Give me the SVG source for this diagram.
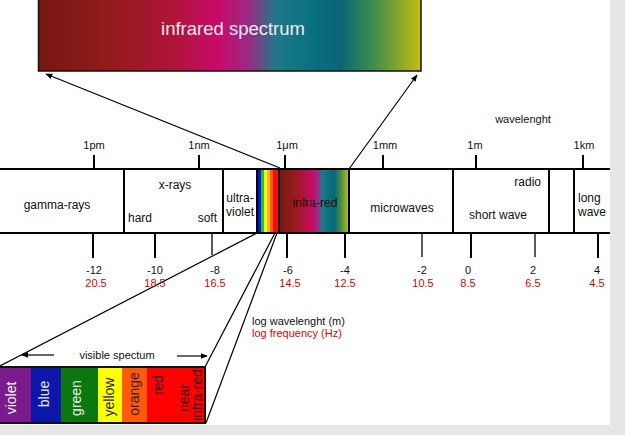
<svg xmlns="http://www.w3.org/2000/svg" width="625" height="435" viewBox="0 0 625 435">
<style>
.t{font-family:"Liberation Sans",Arial,sans-serif;font-size:11px;fill:#111}
.m{text-anchor:middle}
.e{text-anchor:end}
.r{fill:#e00000}
.b{font-size:12px}
.s{font-family:"Liberation Sans",Arial,sans-serif;font-size:14px;text-anchor:middle}
.ln{stroke:#000;stroke-width:2;fill:none}
.th{stroke:#000;stroke-width:1.3;fill:none}
.c{stroke:#000;stroke-width:1.2;fill:none}
</style>
<defs>
<linearGradient id="ir" x1="0" y1="0" x2="1" y2="0">
<stop offset="0" stop-color="#761812"/>
<stop offset="0.2" stop-color="#941b1c"/>
<stop offset="0.36" stop-color="#b0143a"/>
<stop offset="0.47" stop-color="#c80a6a"/>
<stop offset="0.55" stop-color="#9a2a82"/>
<stop offset="0.62" stop-color="#1f7888"/>
<stop offset="0.72" stop-color="#08707e"/>
<stop offset="0.79" stop-color="#0a6676"/>
<stop offset="0.87" stop-color="#3a8a50"/>
<stop offset="1" stop-color="#c2bf0e"/>
</linearGradient>
<marker id="ah" viewBox="0 0 10 10" refX="9" refY="5" markerWidth="7" markerHeight="7" markerUnits="userSpaceOnUse" orient="auto">
<path d="M0,1 L10,5 L0,9 Z" fill="#000"/>
</marker>
</defs>
<rect width="625" height="435" fill="#fff"/>
<rect x="610" y="0" width="15" height="435" fill="#e6e6e6"/>
<rect x="0" y="425" width="625" height="10" fill="#e6e6e6"/>

<g id="infrared-box">
<rect x="38.5" y="-2" width="382.5" height="73" fill="url(#ir)" stroke="#111" stroke-width="1.5"/>
<text x="233" y="35" style="font-family:'Liberation Sans',Arial,sans-serif;font-size:18.5px;fill:#f2eaf2" text-anchor="middle">infrared spectrum</text>
</g>

<g id="connectors">
<line class="c" x1="280" y1="168" x2="46" y2="74" marker-end="url(#ah)"/>
<line class="c" x1="349" y1="169" x2="417" y2="75" marker-end="url(#ah)"/>
<line class="c" x1="257" y1="233" x2="0" y2="366"/>
<line class="c" x1="275" y1="233" x2="205" y2="367"/>
<line class="c" x1="277" y1="233" x2="206" y2="423"/>
</g>

<g id="band">
<rect x="258" y="170" width="3" height="62" fill="#0010ff"/>
<rect x="261" y="170" width="3" height="62" fill="#10d010"/>
<rect x="264" y="170" width="3" height="62" fill="#ffff00"/>
<rect x="267" y="170" width="3" height="62" fill="#ffb040"/>
<rect x="270" y="170" width="3" height="62" fill="#ff6010"/>
<rect x="273" y="170" width="6" height="62" fill="#ff0a0a"/>
<rect x="279" y="170" width="70" height="62" fill="url(#ir)"/>
<line class="ln" x1="0" y1="169" x2="610" y2="169"/>
<line class="ln" x1="0" y1="233" x2="610" y2="233"/>
<line class="ln" x1="124" y1="169" x2="124" y2="233"/>
<line class="ln" x1="223" y1="169" x2="223" y2="233"/>
<line class="ln" x1="257" y1="169" x2="257" y2="233"/>
<line class="ln" x1="279" y1="169" x2="279" y2="233"/>
<line class="ln" x1="349" y1="169" x2="349" y2="233"/>
<line class="ln" x1="453" y1="169" x2="453" y2="233"/>
<line class="ln" x1="549" y1="169" x2="549" y2="233"/>
<line class="ln" x1="574" y1="169" x2="574" y2="233"/>
</g>

<g id="gamma-rays"><text class="t b m" x="57" y="209">gamma-rays</text></g>
<g id="x-rays">
<text class="t b m" x="175" y="189">x-rays</text>
<text class="t b" x="128" y="222">hard</text>
<text class="t b e" x="217" y="222">soft</text>
</g>
<g id="ultra-violet">
<text class="t b m" x="240" y="202">ultra-</text>
<text class="t b m" x="240" y="216">violet</text>
</g>
<g id="infra-red"><text class="t b m" x="315" y="207" style="fill:#1a0a0a">infra-red</text></g>
<g id="microwaves"><text class="t b m" x="402" y="212">microwaves</text></g>
<g id="radio">
<text class="t b e" x="541" y="186">radio</text>
<text class="t b m" x="498" y="219">short wave</text>
</g>
<g id="long-wave">
<text class="t b" x="578" y="202">long</text>
<text class="t b" x="578" y="216">wave</text>
</g>

<g id="top-scale">
<text class="t m" x="523" y="123">wavelenght</text>
<line class="ln" x1="94" y1="155" x2="94" y2="169"/>
<line class="ln" x1="199" y1="155" x2="199" y2="169"/>
<line class="ln" x1="285" y1="155" x2="285" y2="169"/>
<line class="ln" x1="383" y1="155" x2="383" y2="169"/>
<line class="ln" x1="476" y1="155" x2="476" y2="169"/>
<line class="ln" x1="583" y1="155" x2="583" y2="169"/>
<text class="t m" x="94" y="149">1pm</text>
<text class="t m" x="199" y="149">1nm</text>
<text class="t m" x="287" y="149">1μm</text>
<text class="t m" x="385" y="149">1mm</text>
<text class="t m" x="475" y="149">1m</text>
<text class="t m" x="584" y="149">1km</text>
</g>

<g id="bottom-scale">
<line class="ln" x1="93" y1="233" x2="93" y2="258"/>
<line class="ln" x1="155" y1="233" x2="155" y2="258"/>
<line class="th" x1="212" y1="233" x2="212" y2="255"/>
<line class="ln" x1="287" y1="233" x2="287" y2="258"/>
<line class="ln" x1="345" y1="233" x2="345" y2="258"/>
<line class="th" x1="422" y1="233" x2="422" y2="257"/>
<line class="ln" x1="471" y1="233" x2="471" y2="258"/>
<line class="th" x1="535" y1="233" x2="535" y2="257"/>
<line class="ln" x1="598" y1="233" x2="598" y2="258"/>
<text class="t m" x="94" y="274">-12</text>
<text class="t m" x="155" y="274">-10</text>
<text class="t m" x="215" y="274">-8</text>
<text class="t m" x="288" y="274">-6</text>
<text class="t m" x="345" y="274">-4</text>
<text class="t m" x="422" y="274">-2</text>
<text class="t m" x="468" y="274">0</text>
<text class="t m" x="533" y="274">2</text>
<text class="t m" x="597" y="274">4</text>
<text class="t m r" x="96" y="287">20.5</text>
<text class="t m r" x="155" y="287">18.5</text>
<text class="t m r" x="215" y="287">16.5</text>
<text class="t m r" x="290" y="287">14.5</text>
<text class="t m r" x="345" y="287">12.5</text>
<text class="t m r" x="423" y="287">10.5</text>
<text class="t m r" x="468" y="287">8.5</text>
<text class="t m r" x="533" y="287">6.5</text>
<text class="t m r" x="597" y="287">4.5</text>
</g>

<g id="legend">
<text class="t" x="252" y="325">log wavelenght (m)</text>
<text class="t r" x="252" y="337">log frequency (Hz)</text>
</g>

<g id="visible-spectrum">
<text class="t m" x="117" y="359">visible spectum</text>
<line class="c" x1="54" y1="355" x2="22" y2="355" marker-end="url(#ah)"/>
<line class="c" x1="177" y1="356" x2="207" y2="356" marker-end="url(#ah)"/>
<rect x="0" y="367" width="31" height="56" fill="#7a1a8c"/>
<rect x="31" y="367" width="30" height="56" fill="#0c16a8"/>
<rect x="61" y="367" width="37" height="56" fill="#0a780e"/>
<rect x="98" y="367" width="24" height="56" fill="#ffff00"/>
<rect x="122" y="367" width="25" height="56" fill="#ff5a08"/>
<rect x="147" y="367" width="58" height="56" fill="#ff0000"/>
<path d="M0,367 H205 V423 H0" fill="none" stroke="#111" stroke-width="2"/>
<g transform="translate(12,398) rotate(-90)"><text class="s" y="4" fill="#f2f2f2">violet</text></g>
<g transform="translate(45,394) rotate(-90)"><text class="s" y="4" fill="#e8e8f4">blue</text></g>
<g transform="translate(77,398) rotate(-90)"><text class="s" y="4" fill="#e8f2e8">green</text></g>
<g transform="translate(110,397) rotate(-90)"><text class="s" y="4" fill="#222">yellow</text></g>
<g transform="translate(135,394) rotate(-90)"><text class="s" y="4" fill="#3a1a00">orange</text></g>
<g transform="translate(159,385) rotate(-90)"><text class="s" y="4" fill="#300">red</text></g>
<g transform="translate(185,398) rotate(-90)"><text class="s" y="4" fill="#300">near</text></g>
<g transform="translate(198,395) rotate(-90)"><text class="s" y="4" fill="#300">infra-red</text></g>
</g>
</svg>
